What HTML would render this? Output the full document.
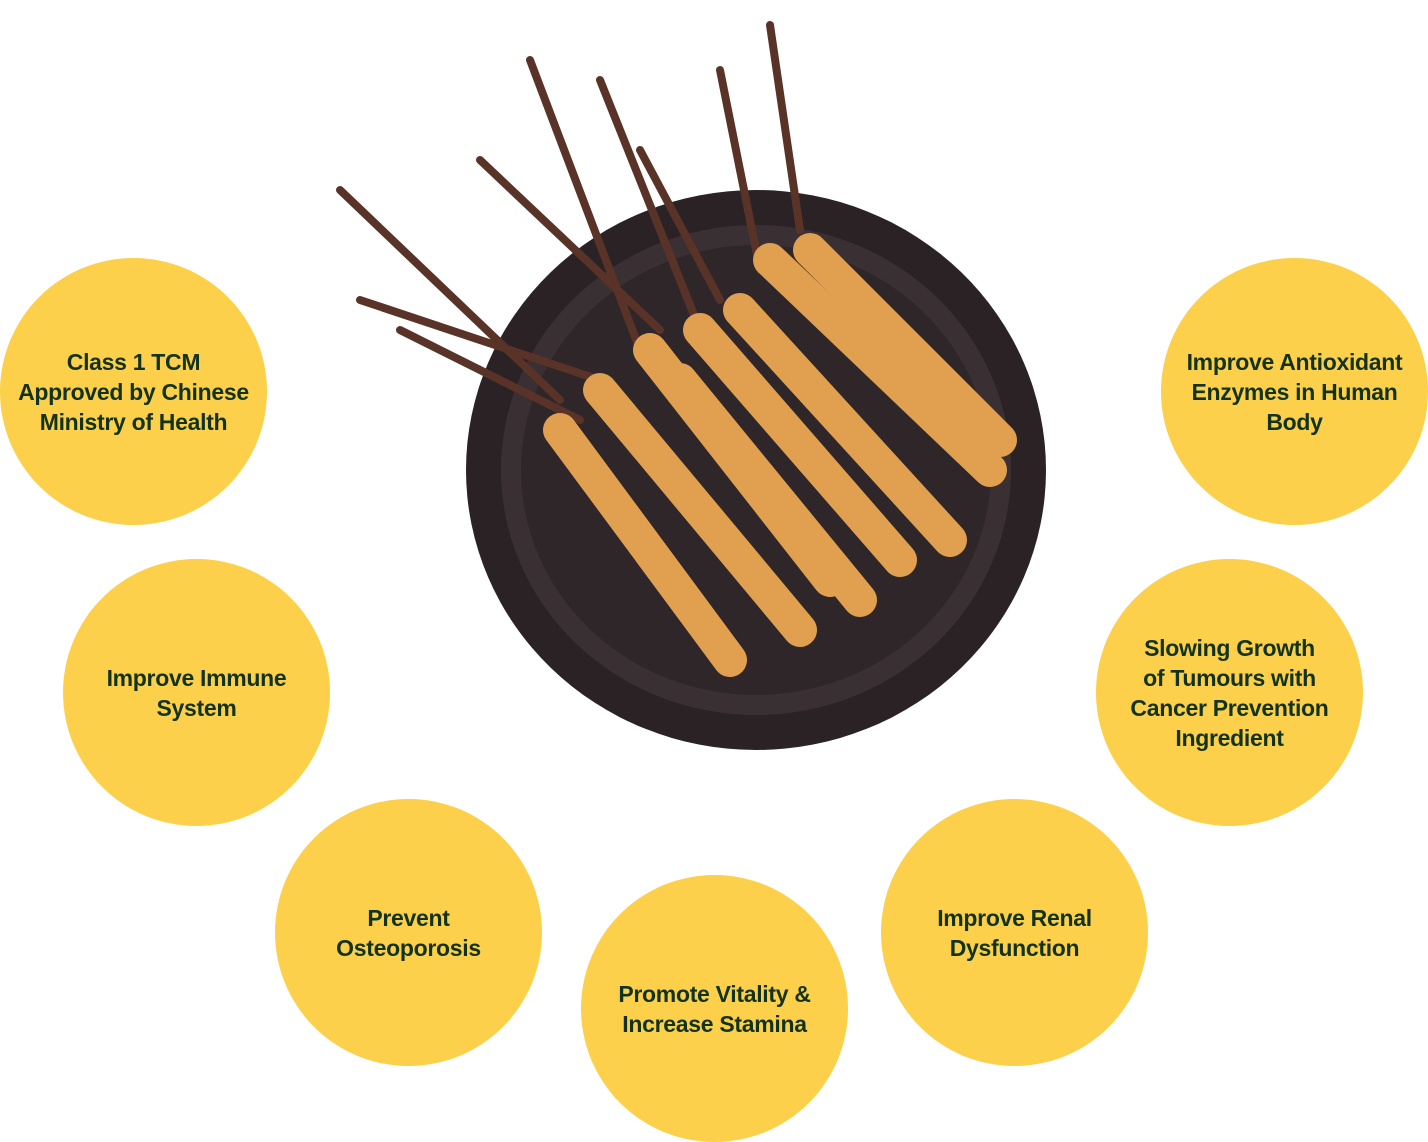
<!DOCTYPE html>
<html><head><style>
html,body{margin:0;padding:0;background:#fff;width:1428px;height:1142px;overflow:hidden;position:relative}
.c{position:absolute;width:267px;height:267px;border-radius:50%;background:#FCD04A;display:flex;align-items:center;justify-content:center;text-align:center;font-family:"Liberation Sans",sans-serif;font-size:23px;line-height:30px;color:#12331A;font-weight:bold;letter-spacing:-0.3px}
.c span{display:block}
</style></head><body>
<svg width="1428" height="1142" style="position:absolute;left:0;top:0">
<ellipse cx="756" cy="470" rx="290" ry="280" fill="#2a2224"/>
<ellipse cx="756" cy="470" rx="255" ry="245" fill="#3a3034"/>
<ellipse cx="756" cy="470" rx="235" ry="225" fill="#2e2628"/>
<g stroke="#5a3328" stroke-width="8" fill="none" stroke-linecap="round">
<path d="M560 400 L340 190"/><path d="M600 380 L360 300"/><path d="M640 350 L530 60"/>
<path d="M700 330 L600 80"/><path d="M760 270 L720 70"/><path d="M800 230 L770 25"/>
<path d="M660 330 L480 160"/><path d="M720 300 L640 150"/><path d="M580 420 L400 330"/>
</g>
<g stroke="#E0A050" stroke-width="34" stroke-linecap="round" fill="none">
<path d="M560 430 L730 660"/><path d="M600 390 L800 630"/><path d="M650 350 L830 580"/>
<path d="M700 330 L900 560"/><path d="M740 310 L950 540"/><path d="M770 260 L990 470"/>
<path d="M810 250 L1000 440"/><path d="M680 380 L860 600"/>
</g>
</svg>
<div class="c" style="left:0;top:258px"><div><span>Class 1 TCM</span><span>Approved by Chinese</span><span>Ministry of Health</span></div></div>
<div class="c" style="left:63px;top:559px"><div><span>Improve Immune</span><span>System</span></div></div>
<div class="c" style="left:275px;top:799px"><div><span>Prevent</span><span>Osteoporosis</span></div></div>
<div class="c" style="left:581px;top:875px"><div><span>Promote Vitality &amp;</span><span>Increase Stamina</span></div></div>
<div class="c" style="left:881px;top:799px"><div><span>Improve Renal</span><span>Dysfunction</span></div></div>
<div class="c" style="left:1096px;top:559px"><div><span>Slowing Growth</span><span>of Tumours with</span><span>Cancer Prevention</span><span>Ingredient</span></div></div>
<div class="c" style="left:1161px;top:258px"><div><span>Improve Antioxidant</span><span>Enzymes in Human</span><span>Body</span></div></div>
</body></html>
